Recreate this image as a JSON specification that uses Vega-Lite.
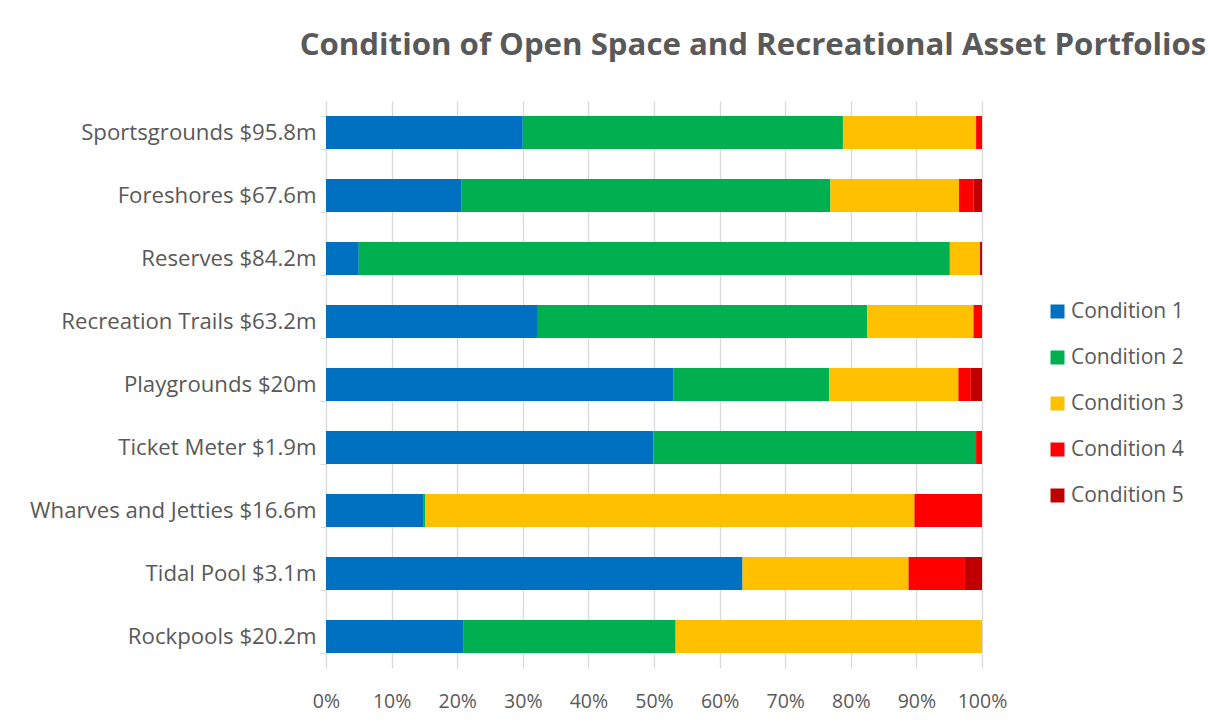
{
  "$schema": "https://vega.github.io/schema/vega-lite/v6.json",
  "autosize": {"type": "none"},
  "width": 656,
  "height": 567,
  "padding": {"left": 326, "top": 101, "right": 226, "bottom": 60},
  "background": "white",
  "title": {
    "text": "Condition of Open Space and Recreational Asset Portfolios",
    "font": "Open Sans",
    "fontSize": 31.2,
    "fontWeight": "bold",
    "color": "#595959",
    "anchor": "middle",
    "dx": 99,
    "offset": 29
  },
  "data": {
    "values": [
      {"asset": "Sportsgrounds $95.8m", "condition": "Condition 1", "pct": 30.0},
      {"asset": "Sportsgrounds $95.8m", "condition": "Condition 2", "pct": 48.8},
      {"asset": "Sportsgrounds $95.8m", "condition": "Condition 3", "pct": 20.3},
      {"asset": "Sportsgrounds $95.8m", "condition": "Condition 4", "pct": 0.9},
      {"asset": "Foreshores $67.6m", "condition": "Condition 1", "pct": 20.6},
      {"asset": "Foreshores $67.6m", "condition": "Condition 2", "pct": 56.3},
      {"asset": "Foreshores $67.6m", "condition": "Condition 3", "pct": 19.6},
      {"asset": "Foreshores $67.6m", "condition": "Condition 4", "pct": 2.2},
      {"asset": "Foreshores $67.6m", "condition": "Condition 5", "pct": 1.3},
      {"asset": "Reserves $84.2m", "condition": "Condition 1", "pct": 5.0},
      {"asset": "Reserves $84.2m", "condition": "Condition 2", "pct": 90.1},
      {"asset": "Reserves $84.2m", "condition": "Condition 3", "pct": 4.6},
      {"asset": "Reserves $84.2m", "condition": "Condition 5", "pct": 0.3},
      {"asset": "Recreation Trails $63.2m", "condition": "Condition 1", "pct": 32.3},
      {"asset": "Recreation Trails $63.2m", "condition": "Condition 2", "pct": 50.2},
      {"asset": "Recreation Trails $63.2m", "condition": "Condition 3", "pct": 16.2},
      {"asset": "Recreation Trails $63.2m", "condition": "Condition 4", "pct": 1.3},
      {"asset": "Playgrounds $20m", "condition": "Condition 1", "pct": 53.0},
      {"asset": "Playgrounds $20m", "condition": "Condition 2", "pct": 23.7},
      {"asset": "Playgrounds $20m", "condition": "Condition 3", "pct": 19.7},
      {"asset": "Playgrounds $20m", "condition": "Condition 4", "pct": 1.9},
      {"asset": "Playgrounds $20m", "condition": "Condition 5", "pct": 1.7},
      {"asset": "Ticket Meter $1.9m", "condition": "Condition 1", "pct": 49.9},
      {"asset": "Ticket Meter $1.9m", "condition": "Condition 2", "pct": 49.2},
      {"asset": "Ticket Meter $1.9m", "condition": "Condition 4", "pct": 0.9},
      {"asset": "Wharves and Jetties $16.6m", "condition": "Condition 1", "pct": 14.9},
      {"asset": "Wharves and Jetties $16.6m", "condition": "Condition 2", "pct": 0.2},
      {"asset": "Wharves and Jetties $16.6m", "condition": "Condition 3", "pct": 74.6},
      {"asset": "Wharves and Jetties $16.6m", "condition": "Condition 4", "pct": 10.3},
      {"asset": "Tidal Pool $3.1m", "condition": "Condition 1", "pct": 63.5},
      {"asset": "Tidal Pool $3.1m", "condition": "Condition 3", "pct": 25.3},
      {"asset": "Tidal Pool $3.1m", "condition": "Condition 4", "pct": 8.6},
      {"asset": "Tidal Pool $3.1m", "condition": "Condition 5", "pct": 2.6},
      {"asset": "Rockpools $20.2m", "condition": "Condition 1", "pct": 20.9},
      {"asset": "Rockpools $20.2m", "condition": "Condition 2", "pct": 32.4},
      {"asset": "Rockpools $20.2m", "condition": "Condition 3", "pct": 46.7}
    ]
  },
  "mark": {"type": "bar"},
  "encoding": {
    "y": {
      "field": "asset",
      "type": "nominal",
      "sort": null,
      "title": null,
      "scale": {"paddingInner": 0.476, "paddingOuter": 0.238},
      "axis": {
        "labelFont": "Open Sans",
        "labelFontSize": 22.2,
        "labelColor": "#595959",
        "labelPadding": 4,
        "labelLimit": 400,
        "tickBand": "extent",
        "tickSize": 6,
        "tickColor": "#D9D9D9",
        "domainColor": "#D9D9D9",
        "grid": false
      }
    },
    "x": {
      "field": "pct",
      "type": "quantitative",
      "stack": "normalize",
      "title": null,
      "scale": {"domain": [0, 1], "nice": false},
      "axis": {
        "format": ".0%",
        "values": [0, 0.1, 0.2, 0.3, 0.4, 0.5, 0.6, 0.7, 0.8, 0.9, 1],
        "labelFont": "Open Sans",
        "labelFontSize": 19.5,
        "labelColor": "#595959",
        "labelPadding": 24,
        "labelFlush": false,
        "labelAlign": "center",
        "ticks": false,
        "domain": false,
        "grid": true,
        "gridColor": "#D9D9D9",
        "gridWidth": 1.3
      }
    },
    "color": {
      "field": "condition",
      "type": "nominal",
      "title": null,
      "scale": {
        "domain": ["Condition 1", "Condition 2", "Condition 3", "Condition 4", "Condition 5"],
        "range": ["#0070C0", "#00B050", "#FFC000", "#FF0000", "#C00000"]
      },
      "legend": {
        "orient": "none",
        "legendX": 721,
        "legendY": 200,
        "symbolType": "square",
        "symbolSize": 196,
        "symbolStrokeWidth": 0,
        "labelFont": "Open Sans",
        "labelFontSize": 21,
        "labelColor": "#595959",
        "labelOffset": 3,
        "rowPadding": 24
      }
    },
    "order": {"field": "condition", "type": "nominal", "sort": "ascending"}
  },
  "config": {
    "view": {"stroke": null}
  }
}
